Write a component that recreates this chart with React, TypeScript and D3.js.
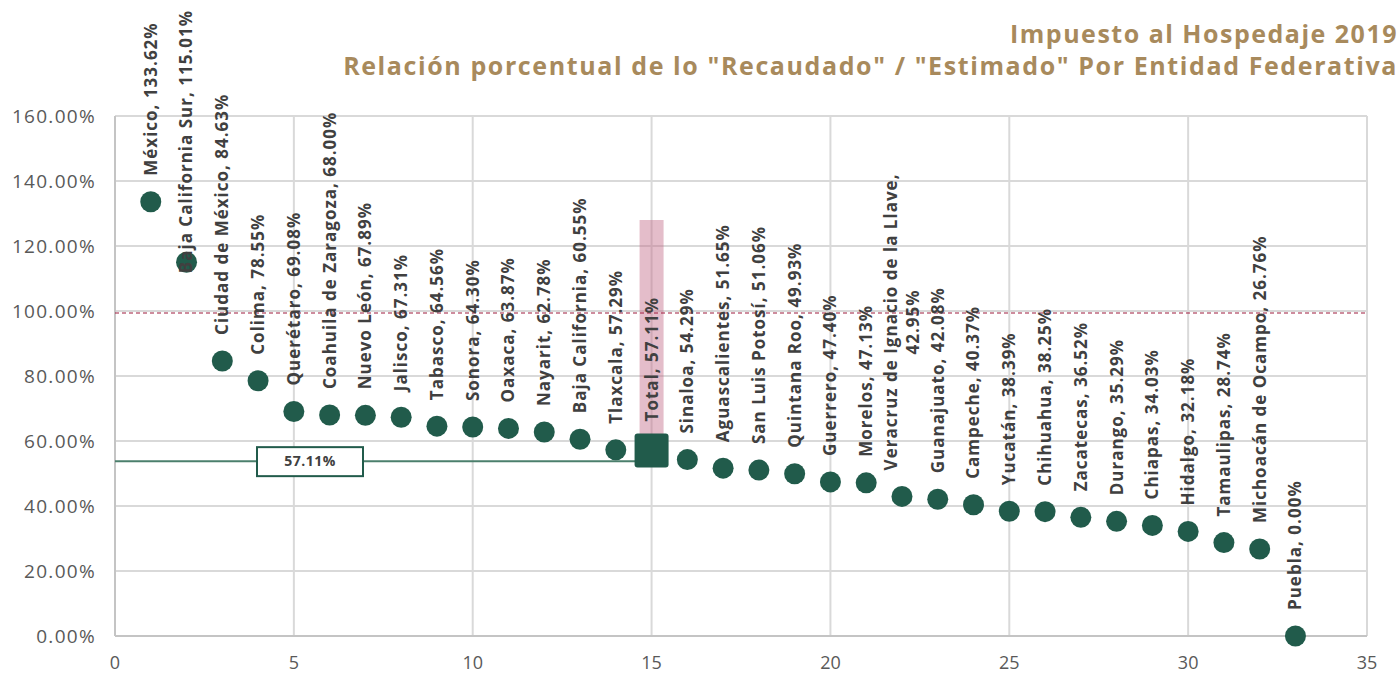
import React, { useEffect, useRef } from 'react';
import * as d3 from 'd3';

// Data
const estados = [
  'México', 'Baja California Sur', 'Ciudad de México', 'Colima', 'Querétaro',
  'Coahuila de Zaragoza', 'Nuevo León', 'Jalisco', 'Tabasco', 'Sonora',
  'Oaxaca', 'Nayarit', 'Baja California', 'Tlaxcala', 'Total',
  'Sinaloa', 'Aguascalientes', 'San Luis Potosí', 'Quintana Roo', 'Guerrero',
  'Morelos', 'Veracruz de Ignacio de la Llave', 'Guanajuato', 'Campeche', 'Yucatán',
  'Chihuahua', 'Zacatecas', 'Durango', 'Chiapas', 'Hidalgo',
  'Tamaulipas', 'Michoacán de Ocampo', 'Puebla',
];
const porcentajes = [
  133.62, 115.01, 84.63, 78.55, 69.08,
  68.0, 67.89, 67.31, 64.56, 64.3,
  63.87, 62.78, 60.55, 57.29, 57.11,
  54.29, 51.65, 51.06, 49.93, 47.4,
  47.13, 42.95, 42.08, 40.37, 38.39,
  38.25, 36.52, 35.29, 34.03, 32.18,
  28.74, 26.76, 0.0,
];
const yTicks = [0, 20, 40, 60, 80, 100, 120, 140, 160];
const xTicks = [0, 5, 10, 15, 20, 25, 30, 35];
const totalIndex = 15;
const totalBarTop = 128;
const metaLine = 100;
const promedioLine = 53.8;
// label moved down onto its marker in the original (Baja California Sur)
const labelShifted = ['Baja California Sur'];
const titulo1 = 'Impuesto al Hospedaje 2019';
const titulo2 = 'Relación porcentual de lo "Recaudado" / "Estimado" Por Entidad Federativa';

const W = 1398;
const H = 674;
const FONT = '"Open Sans", Arial, sans-serif';

const App = () => {
  const svgRef = useRef<SVGSVGElement>(null);

  useEffect(() => {
    const svg = d3.select(svgRef.current);
    svg.selectAll('*').remove();

    const x = d3.scaleLinear().domain([0, 35]).range([115, 1367]);
    const y = d3.scaleLinear().domain([0, 160]).range([636, 116]);

    // gridlines
    const grid = svg.append('g');
    grid.selectAll('line.h').data(yTicks.slice(1)).enter().append('line')
      .attr('x1', x(0)).attr('x2', x(35))
      .attr('y1', d => y(d)).attr('y2', d => y(d))
      .style('stroke', '#d9d9d9').style('stroke-width', 2);
    grid.selectAll('line.v').data(xTicks.slice(1)).enter().append('line')
      .attr('x1', d => x(d)).attr('x2', d => x(d))
      .attr('y1', y(0)).attr('y2', y(160))
      .style('stroke', '#d9d9d9').style('stroke-width', 2);

    // axes lines
    svg.append('line').attr('x1', x(0)).attr('x2', x(35)).attr('y1', y(0)).attr('y2', y(0))
      .style('stroke', '#c4c4c4').style('stroke-width', 2);
    svg.append('line').attr('x1', x(0)).attr('x2', x(0)).attr('y1', y(0)).attr('y2', y(160))
      .style('stroke', '#c4c4c4').style('stroke-width', 2);

    // tick labels
    svg.selectAll('text.yt').data(yTicks).enter().append('text')
      .attr('x', 96).attr('y', d => y(d)).attr('dy', '0.35em')
      .attr('text-anchor', 'end')
      .style('font-family', FONT).style('font-size', '19px').style('letter-spacing', '1.3px')
      .style('fill', '#595959')
      .text(d => d3.format('.2f')(d) + '%');
    svg.selectAll('text.xt').data(xTicks).enter().append('text')
      .attr('x', d => x(d)).attr('y', 669)
      .attr('text-anchor', 'middle')
      .style('font-family', FONT).style('font-size', '18px').style('fill', '#595959')
      .text(d => String(d));

    // pink highlight for Total
    svg.append('rect')
      .attr('x', x(totalIndex) - 12).attr('width', 24)
      .attr('y', y(totalBarTop)).attr('height', y(porcentajes[totalIndex - 1]) - y(totalBarTop))
      .style('fill', 'rgba(196, 108, 138, 0.45)');

    // 100% dashed line
    svg.append('line').attr('x1', x(0)).attr('x2', x(35))
      .attr('y1', y(metaLine) + 2).attr('y2', y(metaLine) + 2)
      .style('stroke', '#9e1b3c').style('stroke-width', 1.2).style('stroke-dasharray', '4,3');

    // reference line with label box
    svg.append('line').attr('x1', x(0)).attr('x2', x(totalIndex))
      .attr('y1', y(promedioLine)).attr('y2', y(promedioLine))
      .style('stroke', '#4b7f6c').style('stroke-width', 2);
    svg.append('rect').attr('x', 257).attr('y', y(promedioLine) - 14).attr('width', 106).attr('height', 29)
      .style('fill', '#fff').style('stroke', '#215b4b').style('stroke-width', 2);
    svg.append('text').attr('x', 310).attr('y', y(promedioLine)).attr('dy', '0.36em')
      .attr('text-anchor', 'middle')
      .style('font-family', FONT).style('font-size', '14px').style('font-weight', 700)
      .style('letter-spacing', '0.5px').style('fill', '#404040')
      .text(d3.format('.2f')(porcentajes[totalIndex - 1]) + '%');

    const data = estados.map((name, i) => ({ name, idx: i + 1, value: porcentajes[i] }));

    // markers
    svg.selectAll('circle.pt').data(data.filter(d => d.idx !== totalIndex)).enter().append('circle')
      .attr('cx', d => x(d.idx)).attr('cy', d => y(d.value)).attr('r', 10.5)
      .style('fill', '#215b4b');
    const tot = data[totalIndex - 1];
    svg.append('rect')
      .attr('x', x(tot.idx) - 17).attr('y', y(tot.value) - 17).attr('width', 34).attr('height', 34)
      .attr('rx', 3).style('fill', '#215b4b');

    // data labels
    data.forEach(d => {
      let gap = d.idx === totalIndex ? 29 : 26;
      if (labelShifted.includes(d.name)) gap = -11;
      const px = x(d.idx);
      const py = y(d.value) - gap;
      const full = `${d.name}, ${d3.format('.2f')(d.value)}%`;
      const g = svg.append('g').attr('transform', `translate(${px},${py}) rotate(-90)`);
      const txt = g.append('text')
        .style('font-family', FONT).style('font-size', '17px').style('font-weight', 700)
        .style('letter-spacing', '1px').style('fill', '#404040');
      if (d.name.length > 28) {
        const line1 = txt.append('tspan').attr('x', 0).attr('y', -11).attr('dy', '0.35em').text(`${d.name},`);
        const len = (line1.node() as SVGTextContentElement).getComputedTextLength();
        line1.attr('x', len / 2).attr('text-anchor', 'middle');
        txt.append('tspan').attr('x', len / 2).attr('y', 11).attr('dy', '0.35em')
          .attr('text-anchor', 'middle').text(`${d3.format('.2f')(d.value)}%`);
      } else {
        txt.attr('x', 0).attr('y', 0).attr('dy', '0.35em').text(full);
      }
    });

    // titles
    svg.append('text').attr('x', 1398).attr('y', 43).attr('text-anchor', 'end')
      .style('font-family', FONT).style('font-size', '25px').style('font-weight', 700)
      .style('letter-spacing', '1.5px').style('fill', '#a88a5c')
      .text(titulo1);
    svg.append('text').attr('x', 1398).attr('y', 75).attr('text-anchor', 'end')
      .style('font-family', FONT).style('font-size', '25px').style('font-weight', 700)
      .style('letter-spacing', '1.6px').style('fill', '#a88a5c')
      .text(titulo2);
  }, []);

  return (
    <div style={{ position: 'absolute', left: 0, top: 0, width: W, height: H, background: '#fff' }}>
      <svg ref={svgRef} width={W} height={H}></svg>
    </div>
  );
};

export default App;
